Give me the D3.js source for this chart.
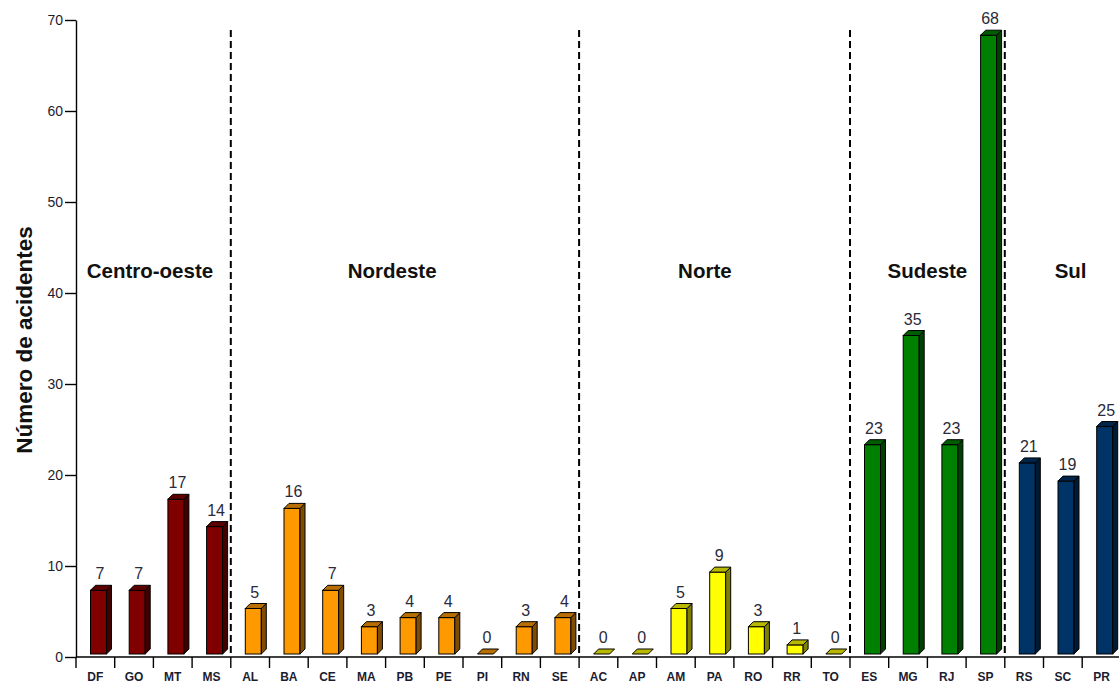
<!DOCTYPE html>
<html>
<head>
<meta charset="utf-8">
<script src="https://cdn.jsdelivr.net/npm/d3@7"></script>
<style>
  html, body { margin: 0; padding: 0; background: #fff; overflow: hidden; }
  svg { display: block; font-family: "Liberation Sans", Arial, sans-serif; }
</style>
</head>
<body>
<svg id="chart" width="1119" height="685"></svg>
<script>
// Accidents per state, grouped by region
const regions = ["Centro-oeste", "Nordeste", "Norte", "Sudeste", "Sul"];
const regionColors = ["#800000", "#FF9900", "#FFFF00", "#008000", "#003366"];
const states = ["DF", "GO", "MT", "MS",
                "AL", "BA", "CE", "MA", "PB", "PE", "PI", "RN", "SE",
                "AC", "AP", "AM", "PA", "RO", "RR", "TO",
                "ES", "MG", "RJ", "SP",
                "RS", "SC", "PR"];
const stateRegion = [0, 0, 0, 0,
                     1, 1, 1, 1, 1, 1, 1, 1, 1,
                     2, 2, 2, 2, 2, 2, 2,
                     3, 3, 3, 3,
                     4, 4, 4];
const accidents = [7, 7, 17, 14,
                   5, 16, 7, 3, 4, 4, 0, 3, 4,
                   0, 0, 5, 9, 3, 1, 0,
                   23, 35, 23, 68,
                   21, 19, 25];
const yTicks = [0, 10, 20, 30, 40, 50, 60, 70];

const svg = d3.select("#chart");
const plotLeft = 76, plotBottom = 657, plotTop = 20;
const band = 38.7;
// horizontal anchor of each region title, in category-band units
const titleAnchor = [1.91, 8.17, 16.25, 22.0, 25.7];

const x = d3.scaleBand()
  .domain(states)
  .range([plotLeft, plotLeft + band * states.length])
  .paddingInner(0).paddingOuter(0);
const y = d3.scaleLinear().domain([0, 70]).range([plotBottom, plotTop]);

const depth = 5, lift = 3, barOffset = 14.5, barW = 16;

// y axis
const yAxis = d3.axisLeft(y).tickValues(yTicks).tickSize(11).tickPadding(2).tickSizeOuter(0);
const gy = svg.append("g").attr("transform", `translate(${plotLeft},0)`).call(yAxis);
gy.select(".domain").attr("stroke", "#000").attr("stroke-width", 1.4);
gy.selectAll(".tick line").attr("stroke", "#000").attr("stroke-width", 1.4);
gy.selectAll(".tick text").attr("font-size", 14).attr("fill", "#1c1c30")
  .attr("font-family", "Liberation Sans, Arial, sans-serif");

// x axis baseline with ticks at band boundaries
const boundaries = d3.range(states.length + 1).map(i => plotLeft + i * band);
svg.append("line").attr("x1", plotLeft).attr("x2", 1119).attr("y1", plotBottom).attr("y2", plotBottom)
  .attr("stroke", "#000").attr("stroke-width", 1.4);
svg.append("g").selectAll("line").data(boundaries).join("line")
  .attr("x1", d => d).attr("x2", d => d).attr("y1", plotBottom).attr("y2", plotBottom + 11)
  .attr("stroke", "#000").attr("stroke-width", 1.4);
svg.append("g").selectAll("text").data(states).join("text")
  .attr("x", d => x(d) + x.bandwidth() / 2)
  .attr("y", 681)
  .attr("text-anchor", "middle")
  .attr("font-size", 12).attr("font-weight", "bold").attr("fill", "#1c1c30")
  .text(d => d);

// region separators (dashed)
const regionStart = regions.map((r, i) => stateRegion.indexOf(i));
svg.append("g").selectAll("line").data(regionStart.slice(1)).join("line")
  .attr("x1", d => plotLeft + d * band).attr("x2", d => plotLeft + d * band)
  .attr("y1", 30).attr("y2", plotBottom)
  .attr("stroke", "#000").attr("stroke-width", 2).attr("stroke-dasharray", "7,4");

// region titles
svg.append("g").selectAll("text").data(regions).join("text")
  .attr("x", (d, i) => plotLeft + titleAnchor[i] * band)
  .attr("y", 278)
  .attr("text-anchor", "middle")
  .attr("font-size", 20.5).attr("font-weight", "bold").attr("fill", "#111")
  .text(d => d);

// 3D bars
const bars = svg.append("g").selectAll("g").data(states.map((s, i) => ({
  s, v: accidents[i], c: regionColors[stateRegion[i]]
}))).join("g");

bars.each(function(d) {
  const g = d3.select(this);
  const x0 = x(d.s) + barOffset, x1 = x0 + barW;
  const yb = y(0) - lift, yt = y(d.v) - lift;
  const topC = d3.interpolateRgb(d.c, "#000")(0.28);
  const sideC = d3.interpolateRgb(d.c, "#000")(0.5);
  if (d.v > 0) {
    g.append("rect").attr("x", x0).attr("y", yt).attr("width", barW).attr("height", yb - yt)
      .attr("fill", d.c).attr("stroke", "#000").attr("stroke-width", 1);
    g.append("path")
      .attr("d", `M${x1},${yt}L${x1 + depth},${yt - depth}L${x1 + depth},${yb - depth}L${x1},${yb}Z`)
      .attr("fill", sideC).attr("stroke", "#000").attr("stroke-width", 1);
  }
  g.append("path")
    .attr("d", `M${x0},${yt}L${x1},${yt}L${x1 + depth},${yt - depth}L${x0 + depth},${yt - depth}Z`)
    .attr("fill", topC)
    .attr("stroke", "#000").attr("stroke-width", 1);
  g.append("text")
    .attr("x", x0 + barW / 2 + 1.5)
    .attr("y", yt - depth - 6)
    .attr("text-anchor", "middle")
    .attr("font-size", 16).attr("fill", "#2a2a3a")
    .text(d.v);
});

// y axis title
svg.append("text")
  .attr("transform", "translate(32,340) rotate(-90)")
  .attr("text-anchor", "middle")
  .attr("font-size", 22.5).attr("font-weight", "bold").attr("fill", "#111")
  .text("Número de acidentes");
</script>
</body>
</html>
